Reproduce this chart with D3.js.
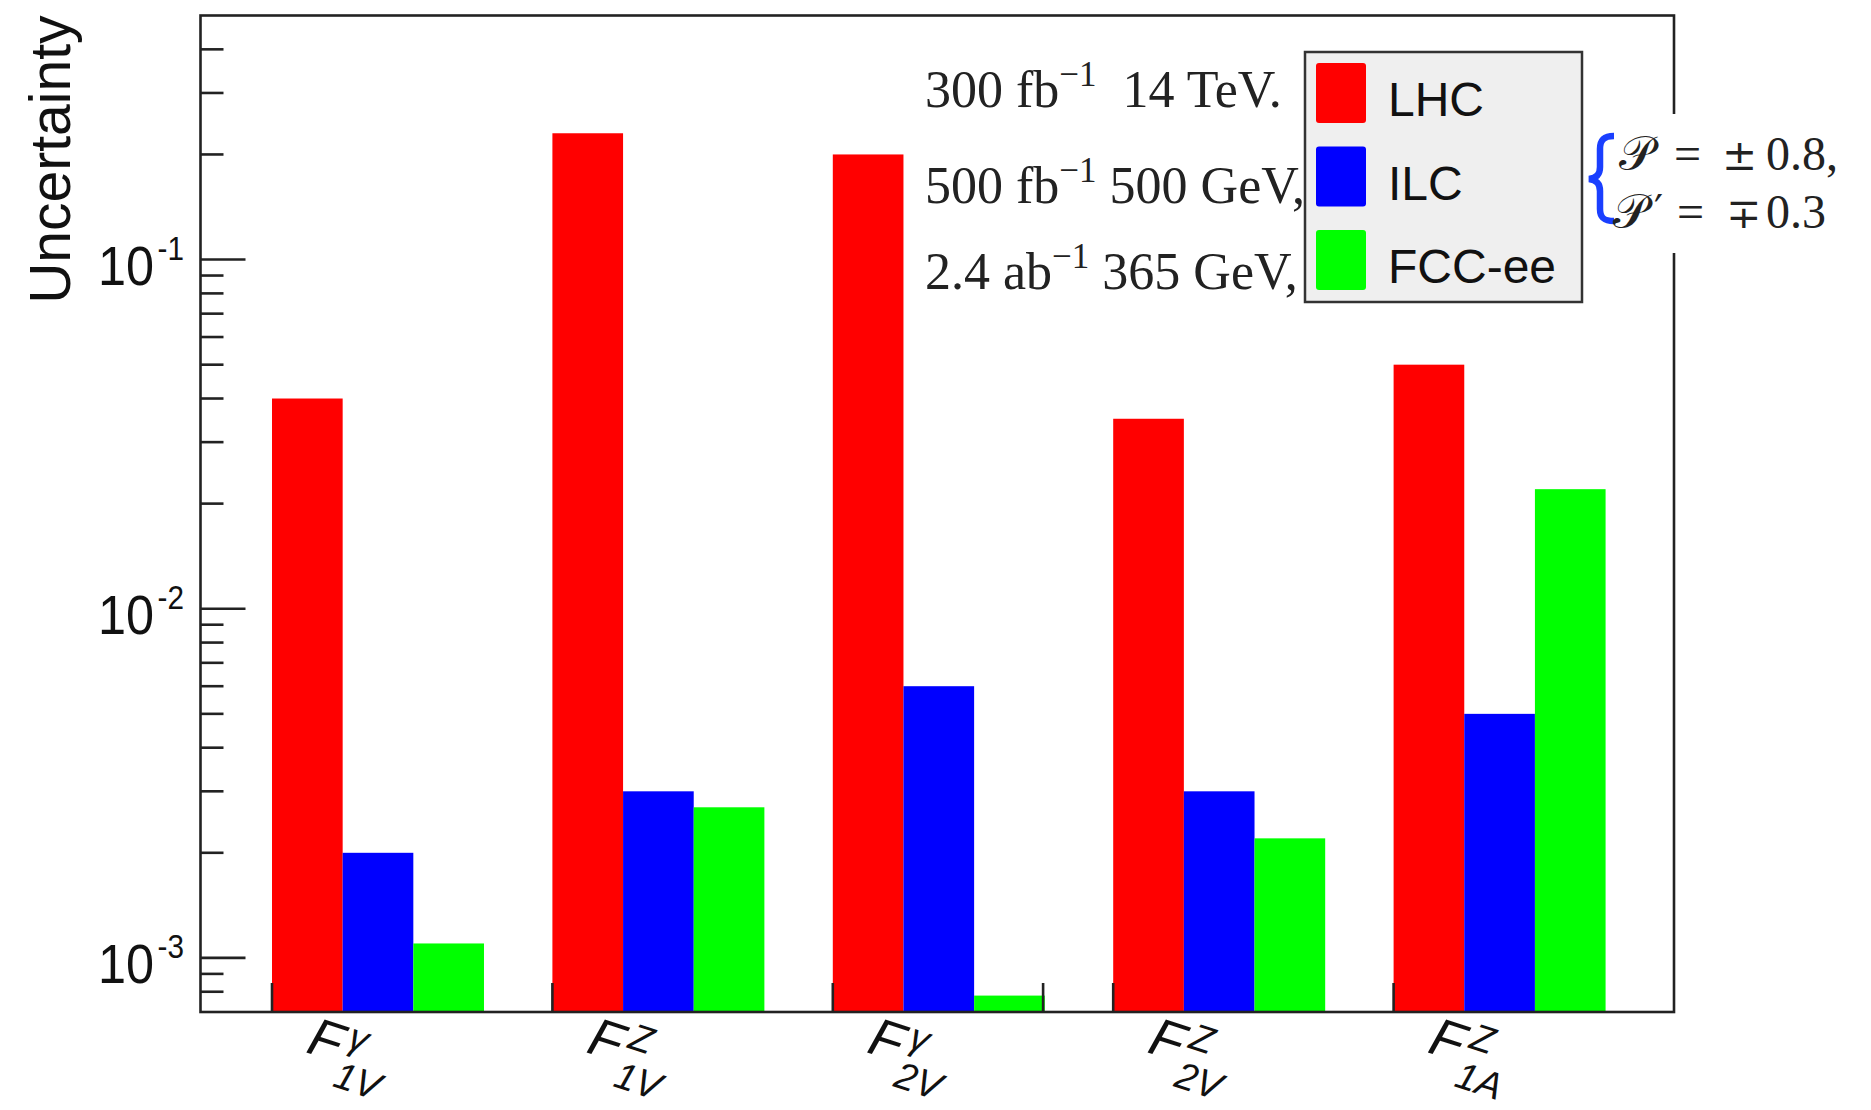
<!DOCTYPE html>
<html lang="en">
<head>
<meta charset="UTF-8">
<title>Uncertainty per form factor</title>
<script src="https://cdn.jsdelivr.net/npm/d3@7"></script>
<style>
	body { margin: 0; background: #fff; }
	svg { display: block; background: #fff; }
	.frame { fill: none; stroke: #222; stroke-width: 2.6; }
	.tk { stroke: #222; stroke-width: 2.6; }
	.sans { font-family: "Liberation Sans", Arial, sans-serif; fill: #111; }
	.serif { font-family: "Liberation Serif", "Times New Roman", serif; fill: #222; white-space: pre; }
</style>
</head>
<body>
<script>
// form factors on the x axis: F^{sup}_{sub}
var categorySup = ["γ", "Z", "γ", "Z", "Z"];
var categorySub = ["1V", "1V", "2V", "2V", "1A"];

// series
var seriesNames = ["LHC", "ILC", "FCC-ee"];
var seriesColors = ["#ff0000", "#0000ff", "#00ff00"];
var lhcValues = [0.040, 0.23, 0.20, 0.035, 0.050];
var ilcValues = [0.0020, 0.0030, 0.0060, 0.0030, 0.0050];
var fccValues = [0.0011, 0.0027, 0.00078, 0.0022, 0.022];

// axes
var yDomain = [0.0007, 0.5];
var yMajorTicks = [1e-3, 1e-2, 1e-1];
var yMajorExp = ["-3", "-2", "-1"];
var xTickPos = [0.255, 1.255, 2.255, 3.005, 3.255, 4.255];

// annotation text
var runLines = [
	["300 fb", "−1", "  14 TeV."],
	["500 fb", "−1", " 500 GeV,"],
	["2.4 ab", "−1", " 365 GeV,"]
];
var polPrime = ["", "′"];
var polSign = ["±", "∓"];
var polValue = ["0.8,", "0.3"];

window.onload = function () {
	var width = 1871, height = 1110;
	var left = 200.5, right = 1674, top = 15.5, bottom = 1012;
	var barOffset = 0.255, barWidth = 0.252;

	var svg = d3.select("body").append("svg")
		.attr("width", width)
		.attr("height", height);

	var x = d3.scaleLinear().domain([0, 5.255]).range([left, right]);
	var y = d3.scaleLog().domain(yDomain).range([bottom, top]);

	var series = [lhcValues, ilcValues, fccValues];

	// bars
	series.forEach(function (vals, k) {
		svg.append("g").selectAll("rect")
			.data(vals)
			.enter().append("rect")
			.attr("x", function (d, i) { return x(i + barOffset + k * barWidth); })
			.attr("width", x(barWidth) - x(0))
			.attr("y", function (d) { return y(d); })
			.attr("height", function (d) { return bottom - y(d); })
			.style("fill", seriesColors[k]);
	});

	// frame
	svg.append("rect").attr("class", "frame")
		.attr("x", left).attr("y", top)
		.attr("width", right - left).attr("height", bottom - top);

	// y ticks
	var minor = y.ticks().filter(function (d) { return d > yDomain[0] * 1.01 && d < yDomain[1] * 0.99; });
	svg.append("g").selectAll("line")
		.data(minor)
		.enter().append("line")
		.attr("class", "tk")
		.attr("x1", left).attr("x2", function (d) {
			return yMajorTicks.some(function (m) { return Math.abs(m - d) / m < 1e-6; }) ? left + 45 : left + 23;
		})
		.attr("y1", function (d) { return y(d); })
		.attr("y2", function (d) { return y(d); });

	// y tick labels, a bit narrow like the original
	var yl = svg.append("g").selectAll("text")
		.data(yMajorTicks)
		.enter().append("text")
		.attr("class", "sans")
		.attr("text-anchor", "end")
		.attr("transform", function (d) { return "translate(184," + (y(d) + 25) + ") scale(0.9,1)"; })
		.style("font-size", "56px");
	yl.append("tspan").text("10");
	yl.append("tspan").attr("dy", -25).attr("dx", 4).style("font-size", "33px")
		.text(function (d, i) { return yMajorExp[i]; });

	svg.append("text")
		.attr("class", "sans")
		.attr("transform", "translate(70," + top + ") rotate(-90)")
		.attr("text-anchor", "end")
		.style("font-size", "57px")
		.text("Uncertainty");

	// x ticks
	svg.append("g").selectAll("line")
		.data(xTickPos)
		.enter().append("line")
		.attr("class", "tk")
		.attr("x1", function (d) { return x(d); })
		.attr("x2", function (d) { return x(d); })
		.attr("y1", bottom).attr("y2", bottom - 29);

	// x labels (tilted, as in the original)
	var xl = svg.append("g").selectAll("g")
		.data(categorySup)
		.enter().append("g")
		.attr("transform", function (d, i) { return "translate(" + (x(i + 0.5) - 36) + ",1052) rotate(18)"; });
	xl.append("text").attr("class", "sans")
		.attr("x", 0).attr("y", 0)
		.style("font-size", "54px").style("font-style", "italic")
		.text("F");
	xl.append("text").attr("class", "sans")
		.attr("x", 38).attr("y", -17)
		.style("font-size", "38px").style("font-style", "italic")
		.text(function (d) { return d; });
	xl.append("text").attr("class", "sans")
		.attr("x", 36).attr("y", 24)
		.style("font-size", "38px").style("font-style", "italic")
		.text(function (d, i) { return categorySub[i]; });

	// run conditions text
	var rl = svg.append("g").selectAll("text")
		.data(runLines)
		.enter().append("text")
		.attr("class", "serif")
		.attr("x", 925)
		.attr("y", function (d, i) { return [107, 203, 289][i]; })
		.style("font-size", "52px");
	rl.append("tspan").text(function (d) { return d[0]; });
	rl.append("tspan").attr("dy", -21).style("font-size", "35px").text(function (d) { return d[1]; });
	rl.append("tspan").attr("dy", 21).text(function (d) { return d[2]; });

	// legend
	var lg = svg.append("g");
	lg.append("rect")
		.attr("x", 1305).attr("y", 52).attr("width", 277).attr("height", 250)
		.style("fill", "#efefef").style("stroke", "#333").style("stroke-width", 2.5);
	seriesNames.forEach(function (name, k) {
		lg.append("rect")
			.attr("x", 1316).attr("y", 63 + k * 83.5)
			.attr("width", 50).attr("height", 60)
			.attr("rx", 3)
			.style("fill", seriesColors[k]);
		lg.append("text").attr("class", "sans")
			.attr("x", 1388).attr("y", 116 + k * 83.5)
			.style("font-size", "48px")
			.text(name);
	});

	// polarisation note
	svg.append("rect")
		.attr("x", 1586).attr("y", 114).attr("width", 252).attr("height", 139)
		.style("fill", "#fff");
	svg.append("path")
		.attr("d", "M1614,136 C1603,136 1600,141 1600,149 L1600,167 C1600,174 1597,178 1589,179 C1597,180 1600,184 1600,191 L1600,209 C1600,217 1603,221 1614,221")
		.style("fill", "none").style("stroke", "#1a3fff").style("stroke-width", 6.5);
	var pol = svg.append("g").selectAll("g")
		.data(polSign)
		.enter().append("g")
		.attr("transform", function (d, i) { return "translate(0," + [170, 228][i] + ")"; });
	pol.append("text").attr("class", "serif")
		.attr("x", function (d, i) { return [1619, 1613][i]; })
		.style("font-size", "48px")
		.text("𝒫");
	pol.append("text")
		.attr("x", 1654).attr("y", -4)
		.style("font-family", "'DejaVu Sans', sans-serif").style("font-size", "40px").style("fill", "#222")
		.text(function (d, i) { return polPrime[i]; });
	pol.append("text").attr("class", "serif")
		.attr("x", function (d, i) { return [1674, 1677][i]; })
		.style("font-size", "48px")
		.text("=");
	pol.append("text")
		.attr("x", function (d, i) { return [1722, 1726][i]; })
		.style("font-family", "'DejaVu Serif', serif").style("font-size", "42px").style("fill", "#222")
		.text(function (d) { return d; });
	pol.append("text").attr("class", "serif")
		.attr("x", 1766)
		.style("font-size", "48px")
		.text(function (d, i) { return polValue[i]; });
};
</script>
</body>
</html>
